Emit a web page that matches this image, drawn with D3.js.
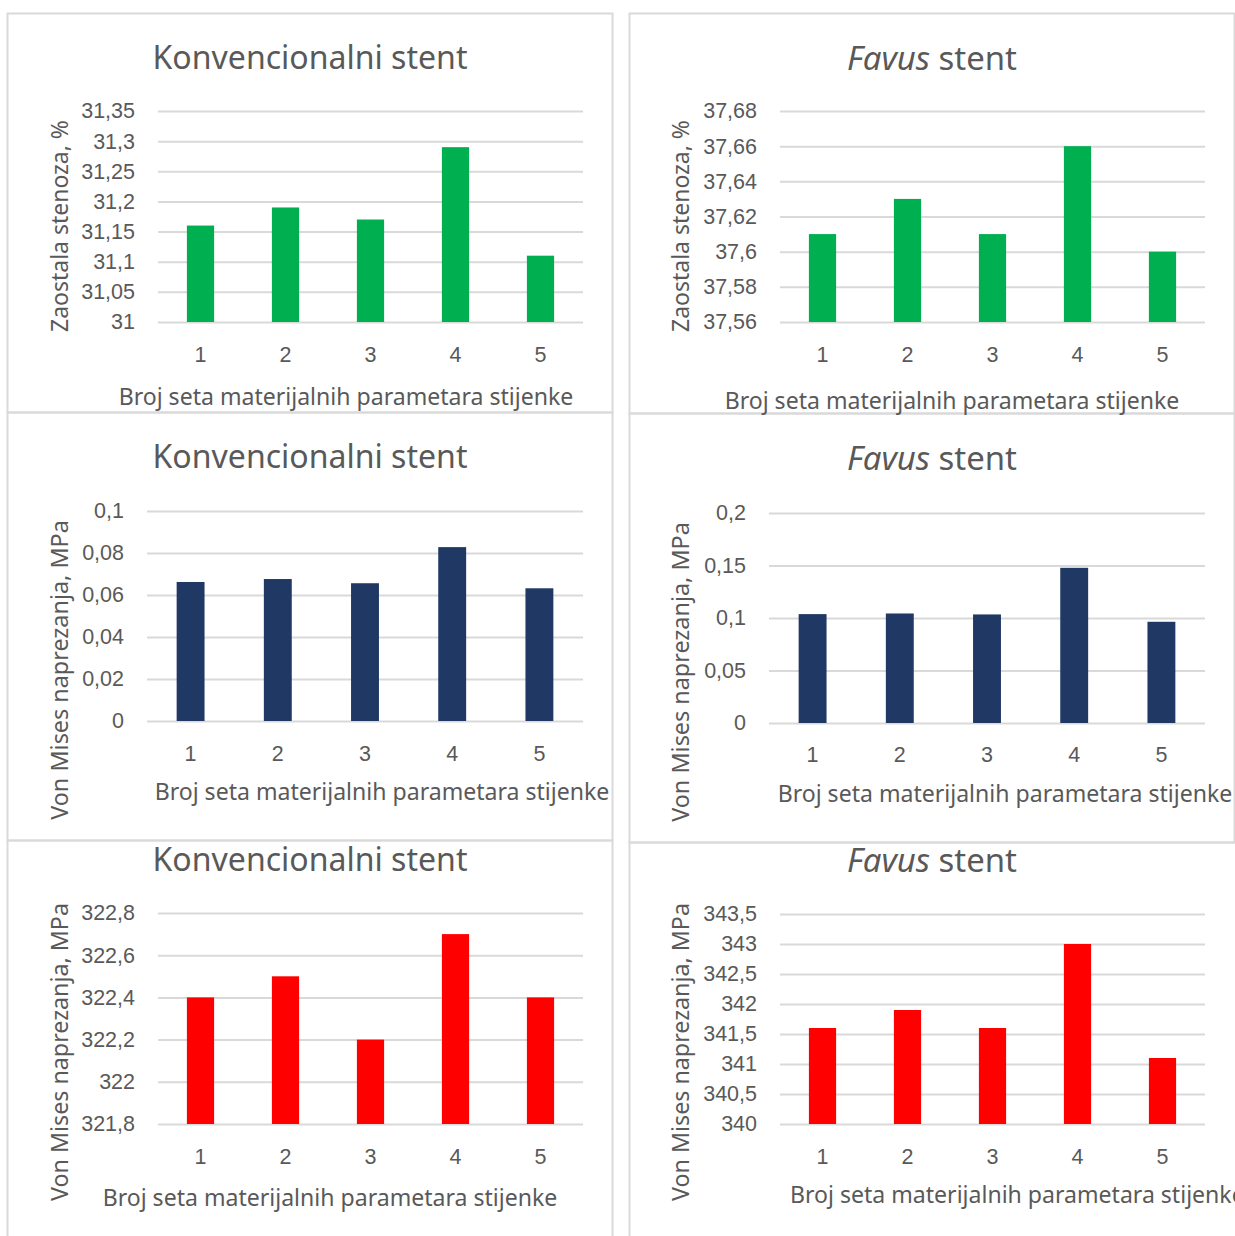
<!DOCTYPE html>
<html><head><meta charset="utf-8">
<script src="https://cdn.jsdelivr.net/npm/d3@7"></script>
<style>
html,body{margin:0;padding:0;background:#fff;}
svg{display:block;font-family:"Noto Sans","Open Sans",sans-serif;}
</style></head><body>
<svg id="c" width="1235" height="1236"></svg>
<script>
// ---- data ----
const categories = ["1","2","3","4","5"];
const stenosisConventional = [31.16, 31.19, 31.17, 31.29, 31.11];
const stenosisFavus = [37.61, 37.63, 37.61, 37.66, 37.60];
const stressLowConventional = [0.0662, 0.0676, 0.0656, 0.0828, 0.0632];
const stressLowFavus = [0.1037, 0.1043, 0.1034, 0.1478, 0.0964];
const stressHighConventional = [322.4, 322.5, 322.2, 322.7, 322.4];
const stressHighFavus = [341.6, 341.9, 341.6, 343.0, 341.1];

const ticksStenosisConv = [31, 31.05, 31.1, 31.15, 31.2, 31.25, 31.3, 31.35];
const ticksStenosisFavus = [37.56, 37.58, 37.6, 37.62, 37.64, 37.66, 37.68];
const ticksStressLowConv = [0, 0.02, 0.04, 0.06, 0.08, 0.1];
const ticksStressLowFavus = [0, 0.05, 0.1, 0.15, 0.2];
const ticksStressHighConv = [321.8, 322, 322.2, 322.4, 322.6, 322.8];
const ticksStressHighFavus = [340, 340.5, 341, 341.5, 342, 342.5, 343, 343.5];

const titleConv = "Konvencionalni stent";
const titleFavusItalic = "Favus";
const titleFavusRest = " stent";
const xAxisTitle = "Broj seta materijalnih parametara stijenke";
const yTitleStenosis = "Zaostala stenoza, %";
const yTitleStress = "Von Mises naprezanja, MPa";

const GREEN = "#00b050", NAVY = "#203864", RED = "#ff0000";
const TXT = "#595959", GRID = "#d9d9d9";

const svg = d3.select("#c");

// panel frames
const frames = [
  [7,13,605,399],[629,13,605,400],
  [7,412,605,428],[629,413,605,429],
  [7,840,605,420],[629,842,620,420]
];
svg.selectAll("rect.frame").data(frames).enter().append("rect")
  .attr("x",d=>d[0]+0.5).attr("y",d=>d[1]+0.5).attr("width",d=>d[2]).attr("height",d=>d[3])
  .attr("fill","none").attr("stroke",GRID).attr("stroke-width",2);

const fmt = v => String(+v.toFixed(4)).replace(".", ",");

function fitText(sel, target){
  const node = sel.node();
  const fs = parseFloat(sel.attr("font-size"));
  const w = node.getComputedTextLength();
  if (w>0) sel.attr("font-size", fs*target/w);
}

function panel(o){
  const g = svg.append("g");
  const x = d3.scaleBand().domain(categories).range([o.x0,o.x1]).paddingInner(0.68).paddingOuter(0.34);
  const y = d3.scaleLinear().domain([o.ticks[0], o.ticks[o.ticks.length-1]]).range([o.yBot,o.yTop]);
  // grid
  const ya = d3.axisLeft(y).tickValues(o.ticks).tickSize(-(o.x1-o.x0)).tickFormat(fmt).tickPadding(23);
  const yg = g.append("g").attr("transform",`translate(${o.x0},0)`).call(ya);
  yg.select(".domain").remove();
  yg.selectAll("line").attr("stroke",GRID).attr("stroke-width",2);
  yg.selectAll("text").attr("fill",TXT).attr("font-size",21.5).attr("font-family",null);
  // bars
  g.selectAll("rect.bar").data(o.values).enter().append("rect")
    .attr("x",(d,i)=>x(categories[i])).attr("width",x.bandwidth())
    .attr("y",d=>y(d)).attr("height",d=>y(o.ticks[0])-y(d)).attr("fill",o.color);
  // x axis labels
  const xa = d3.axisBottom(x).tickSize(0).tickPadding(0);
  const xg = g.append("g").attr("transform",`translate(0,${o.xTickY})`).call(xa);
  xg.select(".domain").remove();
  xg.selectAll("text").attr("fill",TXT).attr("font-size",21.5).attr("font-family",null).attr("dy","0.35em");
  // title
  const t = g.append("text").attr("x",o.tx).attr("y",o.ty).attr("text-anchor","middle")
    .attr("dy","0.35em").attr("fill",TXT).attr("font-size",32);
  if (o.favus){
    t.append("tspan").attr("font-style","italic").text(titleFavusItalic);
    t.append("tspan").text(titleFavusRest);
    fitText(t, 170);
  } else {
    t.text(titleConv);
    fitText(t, 315);
  }
  // x title
  const xt = g.append("text").attr("x",o.xtx).attr("y",o.xty).attr("text-anchor",o.xtAnchor||"middle")
    .attr("dy","0.35em").attr("fill",TXT).attr("font-size",21).text(xAxisTitle);
  fitText(xt, 455);
  // y title
  const yt = g.append("text").attr("transform",`translate(${o.ytx},${o.yty}) rotate(-90)`)
    .attr("text-anchor","middle").attr("dy","0.35em").attr("fill",TXT).attr("font-size",21).text(o.ytitle);
  fitText(yt, o.ytLen);
}

panel({x0:158,x1:583,yTop:111,yBot:322,ticks:ticksStenosisConv,values:stenosisConventional,color:GREEN,
  tx:310,ty:58,xTickY:354,xtx:346,xty:397,ytx:60,yty:226,ytitle:yTitleStenosis,ytLen:212});
panel({x0:780,x1:1205,yTop:111,yBot:322,ticks:ticksStenosisFavus,values:stenosisFavus,color:GREEN,favus:true,
  tx:932,ty:58,xTickY:354,xtx:952,xty:401,ytx:681,yty:226,ytitle:yTitleStenosis,ytLen:212});
panel({x0:147,x1:583,yTop:511,yBot:721,ticks:ticksStressLowConv,values:stressLowConventional,color:NAVY,
  tx:310,ty:457,xTickY:753,xtx:382,xty:792,ytx:60,yty:670,ytitle:yTitleStress,ytLen:300});
panel({x0:769,x1:1205,yTop:513,yBot:723,ticks:ticksStressLowFavus,values:stressLowFavus,color:NAVY,favus:true,
  tx:932,ty:458,xTickY:754,xtx:1005,xty:794,ytx:681,yty:672,ytitle:yTitleStress,ytLen:300});
panel({x0:158,x1:583,yTop:913,yBot:1124,ticks:ticksStressHighConv,values:stressHighConventional,color:RED,
  tx:310,ty:860,xTickY:1156,xtx:330,xty:1198,ytx:60,yty:1052,ytitle:yTitleStress,ytLen:298});
panel({x0:780,x1:1205,yTop:914,yBot:1124,ticks:ticksStressHighFavus,values:stressHighFavus,color:RED,favus:true,
  tx:932,ty:860,xTickY:1156,xtx:790,xty:1195,xtAnchor:"start",ytx:681,yty:1052,ytitle:yTitleStress,ytLen:298});
</script>
</body></html>
